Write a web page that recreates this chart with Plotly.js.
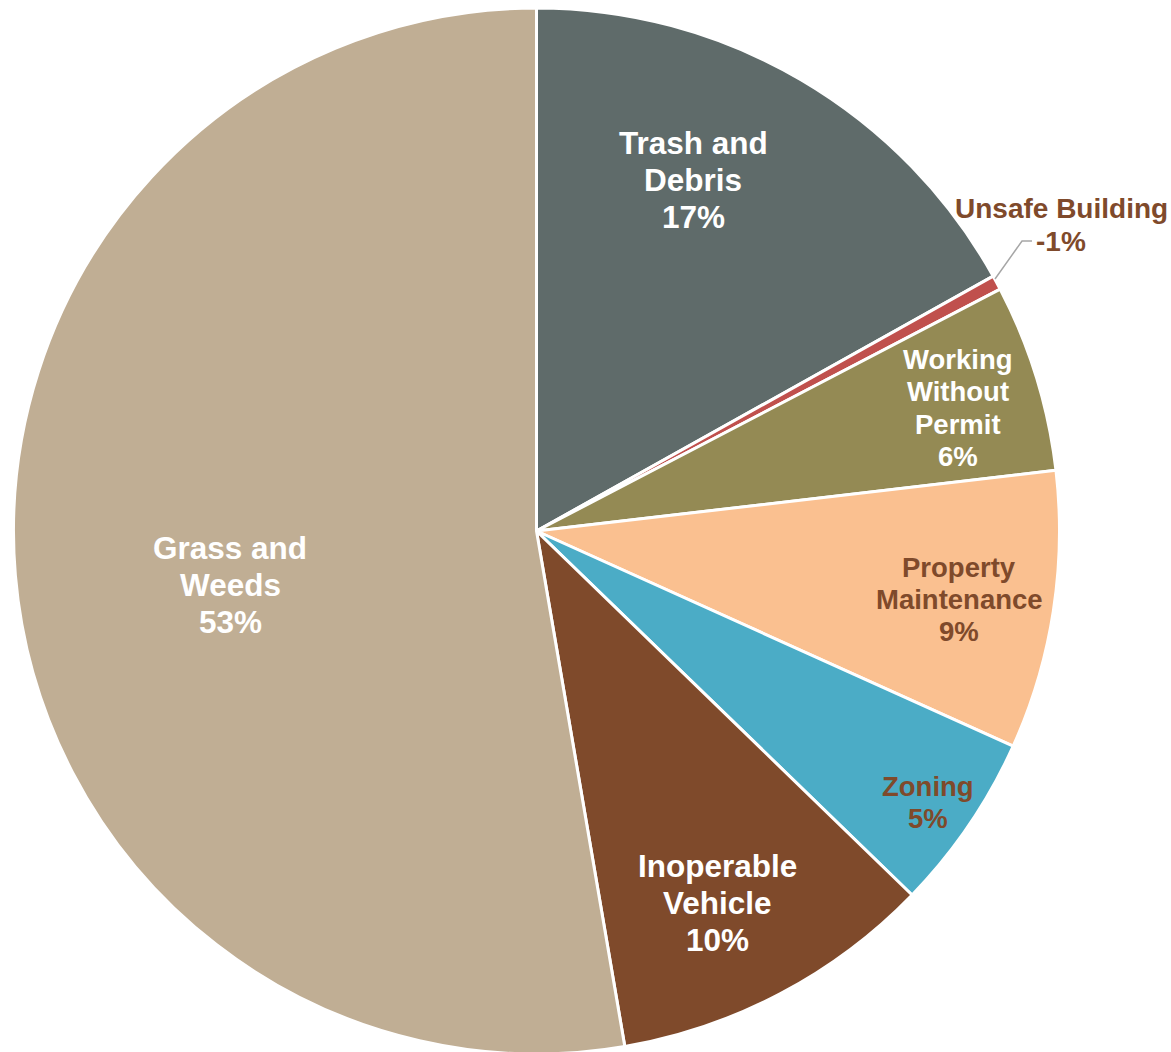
<!DOCTYPE html>
<html>
<head>
<meta charset="utf-8">
<script src="https://cdn.plot.ly/plotly-3.0.1.min.js"></script>
<style>
html,body{margin:0;padding:0;background:#fff;overflow:hidden;}
#chart{width:1171px;height:1060px;}
</style>
</head>
<body>
<div id="chart"></div>
<script>
// ---- data ----
const categories = ["Trash and Debris","Unsafe Building","Working Without Permit","Property Maintenance","Zoning","Inoperable Vehicle","Grass and Weeds"];
const labelLines = [["Trash and","Debris"],["Unsafe Building"],["Working","Without","Permit"],["Property","Maintenance"],["Zoning"],["Inoperable","Vehicle"],["Grass and","Weeds"]];
const shares = [16.9, 0.45, 5.8, 8.6, 5.5, 10.05, 52.7];
const pctLabels = ["17%","-1%","6%","9%","5%","10%","53%"];

// ---- styling ----
const sliceColors = ["#5F6B6A","#C0504D","#948A54","#FAC090","#4BACC6","#7F4A2B","#C0AE94"];
const textColors = ["#FFFFFF","#7F4A2B","#FFFFFF","#7F4A2B","#7F4A2B","#FFFFFF","#FFFFFF"];
const fontSizes = [31.5,28,27.5,27.5,27.5,31.5,31.5];
const lineGaps = [37,33,32,32,32,37,37];
const labelCenters = [[693,180],[1061,225],[958,408],[959,599],[928,802],[718,903],[230,585]];

const W = 1171, H = 1060;
const px = (x,y) => ({x: x/W, y: 1 - y/H});

const annotations = [];
categories.forEach((c,i) => {
  const lines = labelLines[i].concat([pctLabels[i]]);
  const n = lines.length;
  lines.forEach((ln,j) => {
    const cy = labelCenters[i][1] + (j - (n-1)/2) * lineGaps[i];
    const p = px(labelCenters[i][0], cy);
    annotations.push({
      xref:'paper', yref:'paper', x:p.x, y:p.y, xanchor:'center', yanchor:'middle',
      text:'<b>'+ln+'</b>', showarrow:false,
      font:{family:'"Liberation Sans", Arial, sans-serif', size:fontSizes[i], color:textColors[i]}
    });
  });
});

const a = px(995,279), b = px(1022,241), c2 = px(1032,241);
const shapes = [{
  type:'path', xref:'paper', yref:'paper',
  path:`M ${a.x} ${a.y} L ${b.x} ${b.y} L ${c2.x} ${c2.y}`,
  line:{color:'#A6A6A6', width:1.5}
}];

const trace = {
  type:'pie',
  labels:categories,
  values:shares,
  sort:false,
  direction:'clockwise',
  rotation:0,
  textinfo:'none',
  hoverinfo:'skip',
  marker:{colors:sliceColors, line:{color:'#FFFFFF', width:3}},
  domain:{x:[13.5/W, 1059.5/W], y:[(H-1054)/H, (H-8)/H]},
  showlegend:false
};

const layout = {
  width:W, height:H,
  margin:{l:0,r:0,t:0,b:0},
  paper_bgcolor:'#FFFFFF',
  showlegend:false,
  annotations:annotations,
  shapes:shapes
};

Plotly.newPlot('chart',[trace],layout,{staticPlot:true,displayModeBar:false});
</script>
</body>
</html>
